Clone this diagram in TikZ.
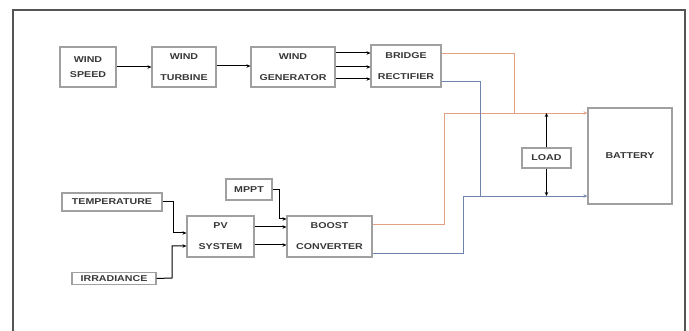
\documentclass[tikz,border=0pt]{standalone}
\usepackage{fontspec}
\setsansfont[FakeStretch=1.25]{Liberation Sans}
\usetikzlibrary{arrows.meta}
\definecolor{framec}{RGB}{85,85,85}
\definecolor{boxc}{RGB}{160,160,160}
\definecolor{redl}{RGB}{228,160,130}
\definecolor{bluel}{RGB}{110,132,172}
\tikzset{
  box/.style={draw=boxc, line width=1.2pt, fill=white, inner sep=0pt, align=center,
    font=\sffamily\bfseries\fontsize{8.5}{9}\selectfont, text=black!78},
  arr/.style={line width=1pt, -{Stealth[length=4pt,width=3.5pt]}},
  redw/.style={draw=redl, line width=0.9pt},
  bluew/.style={draw=bluel, line width=0.9pt},
  opentip/.style={-{Stealth[open,length=4pt,width=3.5pt]}}
}
\begin{document}
\begin{tikzpicture}[x=1pt,y=-1pt]
\useasboundingbox (0,0) rectangle (689,331);
\draw[framec, line width=1.5pt] (13,331) -- (13,10) -- (685,10) -- (685,331);

% nodes
\node[box, minimum width=56pt, minimum height=40pt] (ws) at (88,67) {WIND\\[6pt]SPEED};
\node[box, minimum width=64pt, minimum height=40pt] (wt) at (184,67) {WIND\\[12pt]TURBINE};
\node[box, minimum width=84pt, minimum height=40pt] (wg) at (293,67) {WIND\\[12pt]GENERATOR};
\node[box, minimum width=70pt, minimum height=42pt] (br) at (406,66) {BRIDGE\\[12pt]RECTIFIER};
\node[box, minimum width=84pt, minimum height=96pt] (bat) at (630,156) {BATTERY};
\node[box, minimum width=49pt, minimum height=20pt] (load) at (546.5,158) {LOAD};
\node[box, minimum width=100pt, minimum height=18pt] (temp) at (112,202) {TEMPERATURE};
\node[box, minimum width=84pt, minimum height=12pt] (irr) at (114,278.5) {IRRADIANCE};
\node[box, minimum width=46pt, minimum height=21pt] (mppt) at (249,189.5) {MPPT};
\node[box, minimum width=67pt, minimum height=41pt] (pv) at (220.5,236.5) {PV\\[12pt]SYSTEM};
\node[box, minimum width=85pt, minimum height=41pt] (boost) at (329.5,236.5) {BOOST\\[12pt]CONVERTER};

% helper coordinates
\coordinate (r1) at (514,53);
\coordinate (rbus) at (444,113);
\coordinate (b1) at (480,81);
\coordinate (bbus) at (463,196);

% wind chain
\draw[arr] (ws.east) -- (wt.west);
\draw[arr] (wt.east |- 0,66) -- (wg.west |- 0,66);
\draw[arr] (wg.east |- 0,53) -- (br.west |- 0,53);
\draw[arr] (wg.east |- 0,67) -- (br.west |- 0,67);
\draw[arr] (wg.east |- 0,79) -- (br.west |- 0,79);

% red (positive) lines
\draw[redw] (br.east |- r1) -- (r1) -- (r1 |- rbus);
\draw[redw] (boost.east |- 0,224) -| (rbus);
\draw[redw, opentip] (rbus) -- (bat.west |- rbus);

% blue (negative) lines
\draw[bluew] (br.east |- b1) -- (b1) -- (b1 |- bbus);
\draw[bluew] (boost.east |- 0,253) -| (bbus);
\draw[bluew, opentip] (bbus) -- (bat.west |- bbus);

% load
\draw[arr] (load.north) -- (load.north |- rbus);
\draw[arr] (load.south) -- (load.south |- bbus);

% pv side
\draw[arr] (temp.east) -- (173,202) -- (173,233) -- (pv.west |- 0,233);
\draw[arr] (irr.east) -- (172,278) -- (172,246) -- (pv.west |- 0,246);
\draw[arr] (pv.east |- 0,227) -- (boost.west |- 0,227);
\draw[arr] (pv.east |- 0,245) -- (boost.west |- 0,245);
\draw[arr] (mppt.east) -- (279,189.5) -- (279,219) -- (boost.west |- 0,219);
\end{tikzpicture}
\end{document}
